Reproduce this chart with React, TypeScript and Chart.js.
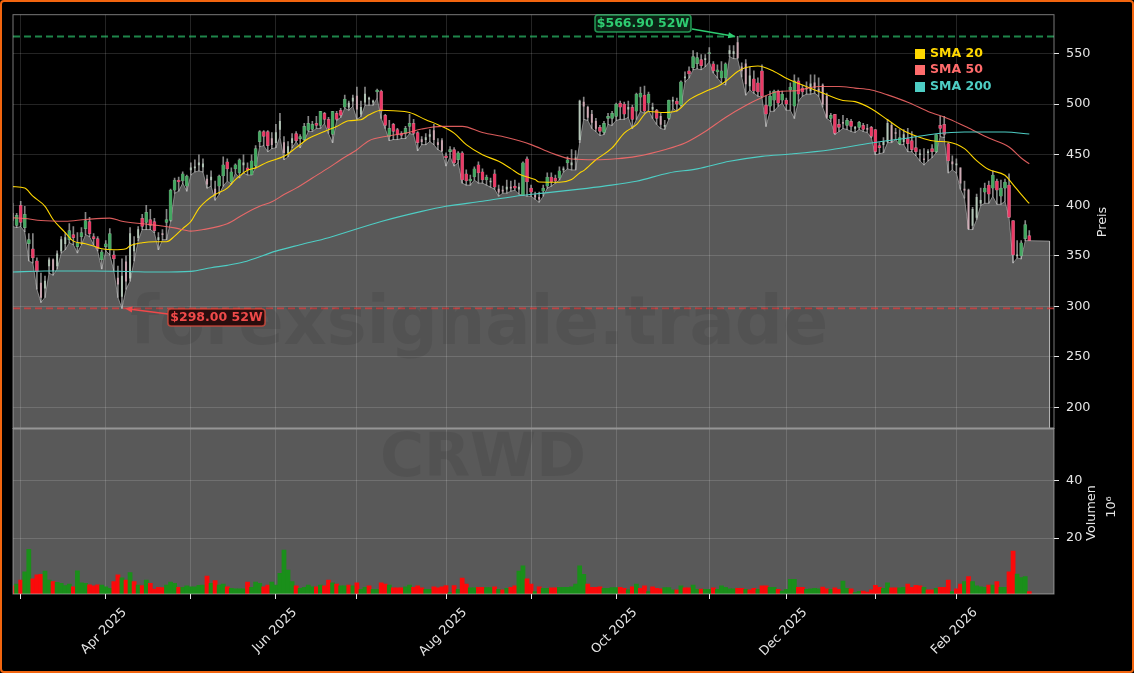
import { useEffect, useRef } from 'react';
import { Chart, registerables } from 'chart.js';

Chart.register(...registerables);

// daily candles, Feb 27 2025 onwards (USD)
const opens = [
  392,380,400,378,362,357,345,323,318,340,
  346,340,355,362,366,371,359,369,377,384,
  369,367,346,359,356,351,328,310,344,328,
  355,368,387,383,386,384,366,372,383,385,
  415,425,424,419,435,437,440,438,426,425,
  416,419,429,443,423,436,432,440,437,430,
  439,463,473,473,466,462,475,462,452,462,
  471,466,465,474,475,481,479,491,485,470,
  491,494,497,497,503,508,490,502,505,502,
  512,513,489,468,480,475,471,471,478,481,
  472,465,465,468,474,462,464,449,453,455,
  445,452,431,424,428,440,433,425,423,431,
  416,415,416,418,419,416,410,446,417,410,
  408,414,419,428,427,427,435,442,440,445,
  465,502,497,490,483,477,472,486,486,488,
  501,500,495,497,493,507,509,501,495,494,
  488,478,486,503,503,499,526,533,536,540,
  544,544,550,540,532,526,526,550,550,561,
  537,540,518,525,521,533,499,498,504,513,
  504,504,514,498,523,516,516,513,521,515,
  519,508,486,490,480,482,479,483,476,477,
  479,476,477,475,459,460,463,479,472,461,
  463,466,464,457,450,446,452,456,453,479,
  480,461,443,440,437,416,415,380,388,402,
  413,420,417,424,409,417,420,385,350,350,
  367,370,
];
const closes = [
  385,390,383,391,366,348,334,309,325,346,
  335,352,366,368,375,368,363,373,385,372,
  367,357,354,362,372,347,322,330,325,372,
  362,376,379,393,380,375,368,371,386,415,
  425,423,431,429,437,438,442,441,421,428,
  410,429,440,436,433,440,445,442,435,444,
  456,473,468,459,460,472,483,452,458,466,
  464,468,478,481,480,479,493,485,476,493,
  485,489,505,501,506,495,497,510,506,503,
  514,493,479,476,473,470,469,476,481,471,
  462,463,467,470,465,460,454,447,455,442,
  452,425,424,426,436,432,425,428,424,418,
  413,414,418,417,417,418,442,423,413,408,
  406,417,428,423,424,434,436,445,442,447,
  503,498,487,482,476,473,481,488,491,500,
  497,490,497,485,510,511,493,510,497,486,
  480,479,504,504,500,522,527,530,547,546,
  538,545,551,533,534,533,540,553,552,546,
  533,520,528,513,512,508,490,508,513,501,
  510,500,517,523,510,512,515,520,516,513,
  500,487,489,471,477,481,484,478,477,482,
  475,475,468,453,457,463,481,463,471,467,
  470,461,455,453,451,445,453,453,470,476,
  470,444,441,441,422,415,377,396,408,405,
  417,411,430,415,417,423,388,351,351,363,
  381,365,
];
const highs = [
  402,392,404,399,372,372,348,333,330,348,
  347,355,369,373,382,379,373,378,393,388,
  372,369,356,365,377,355,340,347,350,378,
  369,379,391,400,396,387,373,376,396,416,
  427,428,433,430,442,445,450,446,430,434,
  424,430,448,446,437,441,446,450,442,450,
  459,474,474,474,472,480,491,468,463,471,
  473,470,481,488,483,488,493,492,487,493,
  493,496,509,503,509,517,503,517,507,504,
  515,514,490,484,481,476,473,478,490,485,
  473,468,471,475,480,466,466,452,458,457,
  453,453,435,430,438,443,436,430,427,435,
  420,419,425,424,425,422,443,448,420,413,
  413,420,432,432,430,438,438,448,455,454,
  504,507,498,494,486,479,483,491,493,501,
  503,502,503,499,511,517,518,512,501,495,
  491,484,504,507,506,523,532,537,553,551,
  549,549,556,542,539,542,541,558,558,567,
  541,544,537,533,526,539,508,513,514,514,
  513,506,521,529,526,519,522,529,529,526,
  520,511,491,490,485,489,486,485,478,483,
  481,480,478,475,462,467,485,481,476,475,
  475,476,473,468,455,456,455,460,470,488,
  488,462,449,446,437,424,416,398,411,417,
  422,424,434,426,425,426,431,385,365,365,
  385,375,
];
const lows = [
  379,378,379,374,345,343,317,304,309,333,
  331,337,353,356,363,361,353,361,371,369,
  361,355,337,355,351,335,309,298,317,325,
  345,365,376,376,376,373,356,366,366,384,
  412,414,422,414,430,433,434,433,417,419,
  405,411,419,424,421,432,427,432,430,430,
  437,458,459,453,456,457,468,445,448,457,
  463,457,464,473,473,476,476,481,471,462,
  484,487,496,494,498,485,488,499,499,499,
  506,486,476,464,465,465,466,466,471,470,
  454,460,460,463,460,455,453,439,448,439,
  442,422,420,420,425,422,422,420,418,416,
  409,412,412,414,415,411,410,409,409,406,
  403,409,417,419,422,425,433,436,435,435,
  462,485,484,476,473,469,470,480,479,484,
  485,485,487,476,485,493,491,494,486,480,
  476,475,485,496,493,498,522,526,534,535,
  534,537,542,531,526,521,519,547,545,545,
  527,509,514,511,508,507,478,493,493,498,
  501,494,494,486,503,508,510,510,511,508,
  497,486,483,470,473,476,475,473,472,475,
  473,472,467,450,451,452,462,462,465,460,
  460,453,453,449,444,440,444,447,452,468,
  467,432,435,432,416,407,376,376,386,400,
  402,402,409,401,401,404,388,343,348,347,
  365,365,
];

// these candles show up as a thin pale stroke instead of a full body
const thinCandles = [
  0, 7, 8, 9, 10, 11, 12, 13, 26, 27, 28, 29, 30, 31, 36, 37, 44, 45, 46, 47, 48, 49, 50, 57,
  64, 65, 66, 67, 68, 69, 83, 84, 85, 86, 87, 88, 89, 101, 102, 103, 104, 105, 106, 118, 120,
  121, 122, 123, 125, 129, 130, 136, 138, 139, 140, 141, 142, 143, 144, 152, 158, 160, 161,
  163, 166, 171, 177, 178, 179, 180, 181, 182, 196, 197, 198, 199, 200, 201, 205, 208, 211,
  215, 216, 217, 218, 220, 224, 225, 226, 232, 233, 234, 235, 236, 237, 238, 239, 248,
];

// millions of shares
const volumes = [
  3.5,4.1,5.5,8.4,16.1,5.9,7.3,7.5,8.6,5.5,
  5.0,4.7,4.4,3.6,4.1,3.2,8.7,4.6,4.4,3.9,
  3.5,3.9,3.8,3.2,2.7,5.0,7.3,6.3,5.5,8.1,
  5.0,3.8,3.6,5.5,4.4,2.4,3.0,2.9,3.8,4.8,
  4.4,3.0,3.0,3.5,3.2,3.2,3.7,3.8,6.9,4.4,
  5.3,3.8,4.1,3.2,2.7,2.5,2.5,2.5,4.8,3.0,
  4.8,4.4,3.2,3.8,4.8,3.8,7.8,15.9,9.0,5.0,
  3.5,2.7,3.0,3.8,3.2,3.2,3.8,3.5,5.5,4.6,
  4.1,3.5,3.5,3.8,3.5,4.6,2.3,3.0,3.5,2.3,
  2.3,4.6,4.1,3.8,2.8,2.8,2.8,3.2,3.8,3.0,
  3.5,2.8,2.3,2.3,3.2,2.8,3.2,3.6,1.2,3.6,
  2.3,6.2,4.1,2.8,2.8,3.0,3.0,2.9,2.9,3.2,
  2.3,2.1,2.7,3.0,3.5,8.6,10.4,5.9,4.1,1.5,
  3.2,2.7,2.7,2.8,2.8,3.0,3.0,3.0,3.2,4.1,
  10.4,7.5,4.1,3.0,3.0,3.2,2.7,2.7,2.9,2.9,
  3.0,2.7,2.1,3.2,4.1,2.7,3.5,1.5,3.2,2.7,
  2.5,2.9,2.9,2.1,2.1,3.5,2.8,2.8,3.8,2.3,
  2.4,2.3,2.3,2.8,2.3,3.5,3.0,2.5,2.5,2.7,
  2.7,2.3,2.1,2.7,2.3,3.5,3.5,3.0,3.0,2.3,
  1.7,2.3,5.8,5.8,3.0,3.0,2.3,2.5,2.7,2.5,
  3.1,2.5,2.3,2.8,2.3,5.2,2.7,2.5,1.2,1.6,
  1.7,1.4,2.1,3.7,3.0,2.7,4.6,2.8,2.8,2.8,
  3.0,4.1,3.0,3.7,3.5,3.0,2.1,2.1,2.7,3.0,
  3.0,5.5,1.5,2.5,4.1,5.0,6.7,5.0,3.5,3.2,
  3.0,3.8,3.8,5.0,3.0,3.0,8.4,15.5,7.6,6.4,
  6.7,1.5,
];
const volumeUp = [
  0,1,0,1,1,0,0,0,1,1,
  0,1,1,1,1,0,1,1,1,0,
  0,0,1,1,1,0,0,1,0,1,
  0,1,0,1,0,0,0,0,1,1,
  1,0,1,1,1,1,1,1,0,1,
  0,1,1,0,1,1,1,1,0,1,
  1,1,0,0,1,1,1,1,1,1,
  0,1,1,1,1,0,1,0,0,1,
  0,1,1,0,1,0,1,1,0,1,
  1,0,0,1,0,0,0,1,1,0,
  0,0,1,1,0,0,0,0,1,0,
  1,0,0,1,1,0,0,1,1,0,
  1,0,1,0,0,1,1,0,0,1,
  0,1,1,0,0,1,1,1,1,1,
  1,1,0,0,0,0,1,1,1,1,
  0,0,1,0,1,0,0,1,0,0,
  0,1,1,1,0,1,0,0,1,1,
  0,1,1,0,1,1,1,1,1,0,
  0,1,0,0,1,0,0,1,1,0,
  1,1,1,1,0,0,1,1,1,1,
  0,0,1,0,0,1,1,0,1,1,
  0,0,0,0,0,1,1,0,0,1,
  1,0,0,0,0,1,0,0,1,0,
  0,0,1,0,0,1,0,1,1,1,
  1,0,1,0,1,1,0,0,1,1,
  1,0,
];

// moving averages, read at these candle numbers
const sma20Days = [
  0,3,5,8,10,13,15,18,20,22,25,28,29,32,35,38,40,42,44,46,48,50,53,55,58,60,63,67,70,73,77,80,83,86,
  88,91,94,98,102,105,109,112,116,120,123,125,129,130,135,138,140,141,144,148,151,154,157,161,164,
  167,171,174,176,179,181,184,188,191,195,200,205,208,212,216,220,225,228,231,235,238,241,245,247,249,251,
];
const sma20 = [
  418.5,417,409,399,386,373,364.6,362,359.7,357,356,357,360,363,364,364,369.5,377,384,397,405,410.6,417,425.4,434.6,437,442.9,448.4,457,466,473,478,483.6,484.6,
  489.5,494,493.5,491.8,484.6,479.7,471.4,460,450,443.5,436.3,431,425.4,423,422.8,425.5,432,434.3,445,456.7,471.4,479.7,492.8,491.8,493.5,
  504.3,512.5,517.5,522.4,532.3,536.2,537.8,532.3,525.7,519,511,503.7,502.5,495.5,484.6,473.8,465.9,463.3,462.6,456,444.2,435.3,429.7,420.5,410.7,401.8,
];
const sma50Days = [
  0,3,7,13,18,24,27,32,36,40,44,47,53,57,61,64,67,70,74,78,81,85,88,92,97,101,106,111,116,122,128,
  133,138,144,149,154,161,166,171,176,181,185,189,193,199,204,208,212,216,221,226,231,236,241,246,249,251,
];
const sma50 = [
  387.6,387,385,384.3,386,387.3,384.3,381.7,380,377.7,374.5,376,381.7,391,399,403.4,410.6,417,427,437,445,455,463.9,468,471.4,475.4,478,478,472,467,460,
  451.7,445.8,445,446,448.4,455,461.6,473,486.9,498.7,506.6,512.5,513.2,517.5,517.5,515.9,514,509.2,502,492.8,485.6,476.4,466.5,457.6,446.8,441,
];
const sma200Days = [
  0,8,20,28,36,44,49,53,57,65,71,78,91,101,107,116,126,131,140,146,154,162,169,177,185,192,202,212,221,228,235,245,251,
];
const sma200 = [
  334,335,335,334.6,334,334.7,338.3,340.6,343.9,354.7,361,368,384,394,399,404,410,412,416,419,423.8,432,436,443.5,448.4,450.7,455,461.6,466.5,470.8,472.5,472.5,470.5,
];

const priceTicks = [200, 250, 300, 350, 400, 450, 500, 550];
const volumeTicks = [20, 40];
const monthTicks = [2, 23, 44, 65, 85, 107, 128, 149, 172, 191, 213, 233];
const monthLabels = ['', 'Apr 2025', '', 'Jun 2025', '', 'Aug 2025', '', 'Oct 2025', '', 'Dec 2025', '', 'Feb 2026'];

const high52w = { day: 179, price: 566.9, label: '$566.90 52W' };
const low52w = { day: 27, price: 298, label: '$298.00 52W' };

// the shaded lows run on past the last candle at the final value
const fillEndDay = 256;
const fillEndPrice = 364.6;

const xMin = 0.1;
const xMax = 257.1;
const priceMin = 179.3;
const priceMax = 588.5;
const volumeMin = 0.7;
const volumeMax = 57.9;

const FONT = '"DejaVu Sans", sans-serif';
const GRID = 'rgba(255,255,255,0.14)';
const AREA = 'rgba(255,255,255,0.35)';
const TEXT = '#e6e6e6';
const GOLD = '#FFD700';
const CORAL = '#FF6B6B';
const TEAL = '#4ECDC4';

const up = (i: number) => closes[i] >= opens[i];
const isThin = (i: number) => thinCandles.includes(i);
const days = opens.map((_, i) => i);
const fullDays = days.filter((i) => !isThin(i));

function roundedLabel(ctx: CanvasRenderingContext2D, text: string, x: number, y: number, w: number, h: number, stroke: string, fill: string, color: string) {
  ctx.beginPath();
  ctx.roundRect(x, y, w, h, 3);
  ctx.fillStyle = fill;
  ctx.fill();
  ctx.lineWidth = 1.6;
  ctx.strokeStyle = stroke;
  ctx.stroke();
  ctx.fillStyle = color;
  ctx.font = `bold 12.5px ${FONT}`;
  ctx.textAlign = 'center';
  ctx.textBaseline = 'middle';
  ctx.fillText(text, x + w / 2, y + h / 2 + 0.5);
}

function arrow(ctx: CanvasRenderingContext2D, x0: number, y0: number, x1: number, y1: number, color: string) {
  const a = Math.atan2(y1 - y0, x1 - x0);
  ctx.strokeStyle = color;
  ctx.fillStyle = color;
  ctx.lineWidth = 1.5;
  ctx.beginPath();
  ctx.moveTo(x0, y0);
  ctx.lineTo(x1 - 6 * Math.cos(a), y1 - 6 * Math.sin(a));
  ctx.stroke();
  ctx.beginPath();
  ctx.moveTo(x1, y1);
  ctx.lineTo(x1 - 8 * Math.cos(a - 0.4), y1 - 8 * Math.sin(a - 0.4));
  ctx.lineTo(x1 - 8 * Math.cos(a + 0.4), y1 - 8 * Math.sin(a + 0.4));
  ctx.closePath();
  ctx.fill();
}

function rotatedText(ctx: CanvasRenderingContext2D, text: string, x: number, y: number) {
  ctx.save();
  ctx.translate(x, y);
  ctx.rotate(-Math.PI / 2);
  ctx.fillStyle = TEXT;
  ctx.font = `12.8px ${FONT}`;
  ctx.textAlign = 'center';
  ctx.textBaseline = 'middle';
  ctx.fillText(text, 0, 0);
  ctx.restore();
}

const overlay = {
  id: 'overlay',
  afterDatasetsDraw(chart: any) {
    const { ctx, scales } = chart;
    const { x, y, y2 } = scales;
    ctx.save();

    // watermarks
    ctx.fillStyle = 'rgba(0,0,0,0.08)';
    ctx.textAlign = 'center';
    ctx.textBaseline = 'middle';
    ctx.font = `bold 67px ${FONT}`;
    ctx.fillText('forexsignale.trade', 479, 327);
    ctx.font = `bold 60px ${FONT}`;
    ctx.fillText('CRWD', 483, 460);

    // pane frames, the seam between the panes shows as a heavier line
    ctx.strokeStyle = 'rgba(200,200,200,0.6)';
    ctx.lineWidth = 1;
    ctx.strokeRect(x.left, y.top, x.right - x.left, y.bottom - y.top);
    ctx.strokeRect(x.left, y2.top, x.right - x.left, y2.bottom - y2.top);
    ctx.strokeStyle = 'rgba(150,150,150,1)';
    ctx.lineWidth = 2;
    ctx.beginPath();
    ctx.moveTo(x.left, y2.top);
    ctx.lineTo(x.right, y2.top);
    ctx.stroke();

    // 52 week markers
    const hx = x.getPixelForValue(high52w.day);
    const hy = y.getPixelForValue(high52w.price);
    arrow(ctx, 692, 29, hx - 2, hy, '#2ecc71');
    roundedLabel(ctx, high52w.label, 595, 15, 96, 17, 'rgba(46,204,113,0.7)', '#0b2415', '#2ecc71');

    const lx = x.getPixelForValue(low52w.day);
    const ly = y.getPixelForValue(low52w.price);
    arrow(ctx, 168, 314, lx + 3, ly, '#f0484a');
    roundedLabel(ctx, low52w.label, 168, 309, 97, 17, 'rgba(231,76,60,0.7)', '#2a0d0d', '#ef4a4a');

    // legend
    const items = [
      ['SMA 20', GOLD, 54],
      ['SMA 50', CORAL, 70],
      ['SMA 200', TEAL, 87],
    ] as const;
    ctx.font = `bold 12.5px ${FONT}`;
    ctx.textAlign = 'left';
    for (const [name, color, ly2] of items) {
      ctx.fillStyle = color;
      ctx.fillRect(915, ly2 - 5, 10, 10);
      ctx.fillText(name, 930, ly2);
    }

    // axis titles read bottom-up, the library only turns right-hand ones the other way
    rotatedText(ctx, 'Preis', 1103, 222);
    rotatedText(ctx, 'Volumen', 1092, 513);
    rotatedText(ctx, '10⁶', 1112, 507);
    ctx.restore();
  },
};

export default function App() {
  const canvasRef = useRef<HTMLCanvasElement>(null);

  useEffect(() => {
    if (!canvasRef.current) return;

    const sma = (label: string, xs: number[], ys: number[], color: string) => ({
      type: 'line' as const,
      label,
      yAxisID: 'y',
      data: xs.map((d, i) => ({ x: d, y: ys[i] })),
      borderColor: color,
      borderWidth: 1.1,
      pointRadius: 0,
      cubicInterpolationMode: 'monotone' as const,
      order: 4,
    });

    const level = (label: string, price: number, color: string) => ({
      type: 'line' as const,
      label,
      yAxisID: 'y',
      data: [{ x: xMin, y: price }, { x: xMax, y: price }],
      borderColor: color,
      borderWidth: 1.8,
      borderDash: [7, 4],
      pointRadius: 0,
      order: 3,
    });

    const chart = new Chart(canvasRef.current, {
      type: 'bar',
      plugins: [overlay],
      data: {
        datasets: [
          // volume pane is filled edge to edge
          {
            type: 'line',
            label: 'Volume fill',
            yAxisID: 'y2',
            data: [{ x: xMin, y: volumeMax }, { x: xMax, y: volumeMax }],
            borderWidth: 0,
            pointRadius: 0,
            fill: 'start',
            backgroundColor: AREA,
            order: 12,
          },
          {
            type: 'line',
            label: 'Low',
            yAxisID: 'y',
            data: [
              ...days.map((i) => ({ x: i, y: lows[i] })),
              { x: fillEndDay, y: fillEndPrice },
              { x: fillEndDay, y: priceMin },
            ],
            borderColor: 'rgba(190,190,190,0.6)',
            borderWidth: 1,
            pointRadius: 0,
            fill: 'start',
            backgroundColor: AREA,
            order: 11,
          },
          {
            type: 'bar',
            label: 'Range',
            yAxisID: 'y',
            grouped: false,
            barThickness: 1,
            data: days.map((i) => ({ x: i, y: [lows[i], highs[i]] })),
            backgroundColor: 'rgba(205,205,205,0.65)',
            order: 10,
          },
          {
            type: 'bar',
            label: 'Body',
            yAxisID: 'y',
            grouped: false,
            barThickness: 3.2,
            data: fullDays.map((i) => ({ x: i, y: [opens[i], closes[i]] })),
            backgroundColor: fullDays.map((i) => (up(i) ? '#45a862' : '#ea3a66')),
            borderColor: fullDays.map((i) => (up(i) ? 'rgba(190,230,200,0.55)' : 'rgba(250,190,205,0.55)')),
            borderWidth: 0.5,
            borderSkipped: false,
            order: 9,
          },
          {
            type: 'bar',
            label: 'Thin body',
            yAxisID: 'y',
            grouped: false,
            barThickness: 1.4,
            data: thinCandles.map((i) => ({ x: i, y: [opens[i], closes[i]] })),
            backgroundColor: thinCandles.map((i) => (up(i) ? 'rgba(200,225,205,0.7)' : 'rgba(235,185,200,0.7)')),
            order: 9,
          },
          sma('SMA 200', sma200Days, sma200, TEAL),
          sma('SMA 50', sma50Days, sma50, 'rgba(255,107,107,0.85)'),
          sma('SMA 20', sma20Days, sma20, GOLD),
          level('52W high', high52w.price, 'rgba(46,204,113,0.65)'),
          level('52W low', low52w.price, 'rgba(231,60,60,0.72)'),
          {
            type: 'bar',
            label: 'Volume',
            yAxisID: 'y2',
            grouped: false,
            barThickness: 4.1,
            data: days.map((i) => ({ x: i, y: volumes[i] })),
            backgroundColor: days.map((i) => (volumeUp[i] ? '#1a8f1a' : '#fb0a0a')),
            order: 8,
          },
        ] as any,
      },
      options: {
        responsive: false,
        animation: false,
        layout: { padding: { top: 13, left: 13, right: 0, bottom: 0 } },
        plugins: { legend: { display: false }, tooltip: { enabled: false } },
        scales: {
          x: {
            type: 'linear',
            offset: false,
            min: xMin,
            max: xMax,
            border: { display: false },
            grid: { offset: false, color: GRID, tickColor: TEXT, tickLength: 5 },
            afterBuildTicks: (s: any) => {
              s.ticks = monthTicks.map((value) => ({ value }));
            },
            afterFit: (s: any) => {
              s.height = 79;
            },
            ticks: {
              autoSkip: false,
              minRotation: 45,
              maxRotation: 45,
              labelOffset: 19,
              padding: 6,
              color: TEXT,
              font: { family: FONT, size: 12.8 },
              callback: (v: any) => monthLabels[monthTicks.indexOf(Number(v))] ?? '',
            },
          },
          y: {
            position: 'right',
            stack: 'panes',
            stackWeight: 2.5,
            min: priceMin,
            max: priceMax,
            border: { display: false },
            grid: { color: GRID, tickColor: TEXT, tickLength: 5 },
            afterBuildTicks: (s: any) => {
              s.ticks = priceTicks.map((value) => ({ value }));
            },
            afterFit: (s: any) => {
              s.width = 80;
            },
            ticks: { padding: 7, color: TEXT, font: { family: FONT, size: 12.8 } },
          },
          y2: {
            position: 'right',
            stack: 'panes',
            stackWeight: 1,
            min: volumeMin,
            max: volumeMax,
            border: { display: false },
            grid: { color: GRID, tickColor: TEXT, tickLength: 5 },
            afterBuildTicks: (s: any) => {
              s.ticks = volumeTicks.map((value) => ({ value }));
            },
            afterFit: (s: any) => {
              s.width = 80;
            },
            ticks: { padding: 7, color: TEXT, font: { family: FONT, size: 12.8 } },
          },
        },
      },
    } as any);

    return () => chart.destroy();
  }, []);

  return (
    <div style={{ position: 'relative', width: 1134, height: 673, background: '#000', overflow: 'hidden' }}>
      <style>{'body{margin:0;background:#000}'}</style>
      <canvas ref={canvasRef} width={1134} height={673} style={{ display: 'block' }} />
      <div
        style={{
          position: 'absolute',
          inset: 0,
          boxSizing: 'border-box',
          border: '2.5px solid #f2650f',
          borderRadius: 4,
          pointerEvents: 'none',
        }}
      />
    </div>
  );
}
